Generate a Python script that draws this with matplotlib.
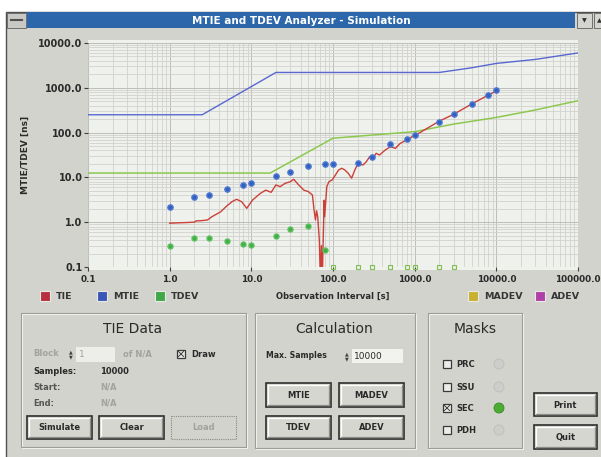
import matplotlib
matplotlib.use('Agg')
import matplotlib.pyplot as plt
from matplotlib.patches import Rectangle, Circle

# values: observation interval [s] and ns
tie_tau = [1.0, 2.0, 2.1, 2.4, 2.9, 3.3, 4.2, 5.0, 5.8, 6.6, 7.6, 8.8, 10.3, 12.9, 15, 17.5,
           20, 22.5, 26, 30, 33, 38, 44, 50, 56, 58.6, 61, 63, 65, 68, 70, 72, 74, 76, 78,
           79, 84, 89, 98, 107, 117, 128, 140, 154, 169, 185, 203, 233, 256, 281, 308, 338,
           371, 437, 506, 580, 666, 800, 1000, 1150, 2000, 3000, 5000, 8000, 10000]
tie_ns = [0.95, 1.0, 1.07, 1.08, 1.12, 1.33, 1.7, 2.3, 2.87, 3.25, 2.87, 2.04, 3.1, 4.4, 5.2, 4.65,
          6.8, 6.2, 7.4, 8.0, 9.1, 6.8, 5.2, 4.8, 4.05, 1.87, 1.12, 1.8, 1.33, 0.4, 0.05, 0.3,
          0.05, 0.5, 3.1, 1.33, 6.2, 8.0, 8.8, 11.3, 14.6, 16, 14.6, 12.3, 9.6, 14.6, 20.6,
          18.9, 22.4, 29, 26.7, 34.5, 31.6, 41, 48.6, 44.5, 57.5, 68.5, 88, 99, 180, 256,
          436, 690, 850]
mtie_tau = [1, 2, 3, 5, 8, 10, 20, 30, 50, 80, 100, 200, 300, 500, 800, 1000, 2000, 3000, 5000, 8000, 10000]
mtie_ns = [2.15, 3.7, 4.1, 5.5, 6.6, 7.4, 10.9, 13.2, 18, 19.5, 19.5, 20.5, 29, 55, 72, 88, 175, 256, 436, 690, 880]
tdev_tau = [1, 2, 3, 5, 8, 10, 20, 30, 50, 80]
tdev_ns = [0.30, 0.44, 0.44, 0.39, 0.33, 0.31, 0.50, 0.72, 0.83, 0.24]
tdev_low_tau = [100, 200, 300, 500, 800, 1000, 2000, 3000]
mtie_mask_tau = [0.1, 2.5, 20, 2000, 5000, 10000, 30000, 100000]
mtie_mask_ns = [250, 250, 2200, 2200, 2800, 3500, 4300, 6000]
tdev_mask_tau = [0.1, 17, 100, 300, 1000, 3000, 10000, 30000, 100000]
tdev_mask_ns = [12.5, 12.5, 75, 88, 105, 155, 218, 320, 515]

x_ticks = [0.1, 1, 10, 100, 1000, 10000, 100000]
x_ticklabels = ['0.1', '1.0', '10.0', '100.0', '1000.0', '10000.0', '100000.0']
y_ticks = [0.1, 1, 10, 100, 1000, 10000]
y_ticklabels = ['0.1', '1.0', '10.0', '100.0', '1000.0', '10000.0']

legend_names = ['TIE', 'MTIE', 'TDEV', 'MADEV', 'ADEV']
legend_colors = ['#b83040', '#3858b8', '#40a848', '#c8b030', '#b040a8']
legend_x = [45, 102, 160, 473, 540]

W, H = 601, 457
GRAY = '#d3d3cd'
TXT = '#2a2a2a'
DIS = '#a2a29e'

fig = plt.figure(figsize=(W / 100, H / 100), dpi=100)
fig.patch.set_facecolor('white')

ui = fig.add_axes([0, 0, 1, 1], zorder=0)
ui.set_xlim(0, W)
ui.set_ylim(H, 0)
ui.axis('off')


def rect(x0, y0, x1, y1, **kw):
    ui.add_patch(Rectangle((x0, y0), x1 - x0, y1 - y0, **kw))


def button(x0, y0, x1, y1, label, disabled=False):
    if disabled:
        rect(x0, y0, x1, y1, facecolor=GRAY, edgecolor='#8a8a86', lw=0.8, ls=(0, (1, 1)))
        ui.text((x0 + x1) / 2, (y0 + y1) / 2 + 0.5, label, ha='center', va='center',
                fontsize=6, fontweight='bold', color=DIS)
        return
    rect(x0, y0, x1, y1, facecolor='#d6d6d0', edgecolor='#2e2e2e', lw=1.2)
    ui.plot([x0 + 2, x1 - 2], [y0 + 2, y0 + 2], color='white', lw=0.9)
    ui.plot([x0 + 2, x0 + 2], [y0 + 2, y1 - 2], color='white', lw=0.9)
    ui.plot([x0 + 2, x1 - 2], [y1 - 2, y1 - 2], color='#8c8c88', lw=0.9)
    ui.plot([x1 - 2, x1 - 2], [y0 + 2, y1 - 2], color='#8c8c88', lw=0.9)
    ui.text((x0 + x1) / 2, (y0 + y1) / 2 + 0.5, label, ha='center', va='center',
            fontsize=6, fontweight='bold', color=TXT)


def group(x0, y0, x1, y1, title, cx):
    rect(x0 + 1, y0 + 1, x1 + 1, y1 + 1, facecolor='none', edgecolor='#f4f4f0', lw=0.8)
    rect(x0, y0, x1, y1, facecolor='none', edgecolor='#9c9c98', lw=0.8)
    ui.text(cx, y0 + 16, title, ha='center', va='center', fontsize=10, color=TXT)


def checkbox(cx, cy, checked):
    rect(cx - 4, cy - 4, cx + 4, cy + 4, facecolor='#ecece8', edgecolor='#3a3a3a', lw=0.9)
    if checked:
        ui.plot([cx - 2.5, cx + 2.5], [cy - 2.5, cy + 2.5], color='#3a3a3a', lw=0.7)
        ui.plot([cx - 2.5, cx + 2.5], [cy + 2.5, cy - 2.5], color='#3a3a3a', lw=0.7)


def spinner(cx, cy):
    ui.text(cx, cy - 2.5, '▲', ha='center', va='center', fontsize=3.5, color='#404040')
    ui.text(cx, cy + 2.5, '▼', ha='center', va='center', fontsize=3.5, color='#404040')


# window and title bar
rect(6, 12, W + 2, H + 2, facecolor=GRAY, edgecolor='#505050', lw=1)
rect(27, 12, 575, 28, facecolor='#2c67ab', edgecolor='none')
rect(7, 13, 26, 28, facecolor='#c8c8c4', edgecolor='#606060', lw=0.6)
ui.plot([11, 22], [20, 20], color='#505050', lw=1.5)
rect(577, 13, 592, 28, facecolor='#d4d4d0', edgecolor='#606060', lw=0.6)
rect(594, 13, 603, 28, facecolor='#d4d4d0', edgecolor='#606060', lw=0.6)
ui.text(584.5, 20.5, '▼', ha='center', va='center', fontsize=4.5, color='#303030')
ui.text(599, 20.5, '▲', ha='center', va='center', fontsize=4.5, color='#303030')
ui.text(301, 20.5, 'MTIE and TDEV Analyzer - Simulation', ha='center', va='center',
        fontsize=7.5, fontweight='bold', color='white')

# plot background
rect(88, 40, 578, 270, facecolor='#eff1ed', edgecolor='none')

# legend row
for name, col, lx in zip(legend_names, legend_colors, legend_x):
    rect(lx - 5, 291, lx + 5, 301, facecolor=col, edgecolor='#e8e8e4', lw=0.8)
    ui.text(lx + 11, 296.5, name, ha='left', va='center', fontsize=6.8,
            fontweight='bold', color='#353535')
ui.text(333, 296.5, 'Observation Interval [s]', ha='center', va='center', fontsize=6,
        fontweight='bold', color=TXT)

# TIE Data group
group(21, 313, 246, 447, 'TIE Data', 133)
ui.text(33, 354, 'Block', ha='left', va='center', fontsize=6, fontweight='bold', color=DIS)
spinner(71, 354)
rect(76, 347, 115, 362, facecolor='#ededea', edgecolor='none')
ui.text(79, 354.5, '1', ha='left', va='center', fontsize=6.5, color=DIS)
ui.text(123, 354, 'of N/A', ha='left', va='center', fontsize=6, fontweight='bold', color=DIS)
checkbox(181, 354, True)
ui.text(191, 354.5, 'Draw', ha='left', va='center', fontsize=6, fontweight='bold', color=TXT)
ui.text(33, 371, 'Samples:', ha='left', va='center', fontsize=6, fontweight='bold', color=TXT)
ui.text(100, 371, '10000', ha='left', va='center', fontsize=6, fontweight='bold', color=TXT)
ui.text(33, 387, 'Start:', ha='left', va='center', fontsize=6, fontweight='bold', color='#555555')
ui.text(100, 387, 'N/A', ha='left', va='center', fontsize=6, fontweight='bold', color=DIS)
ui.text(33, 403, 'End:', ha='left', va='center', fontsize=6, fontweight='bold', color='#555555')
ui.text(100, 403, 'N/A', ha='left', va='center', fontsize=6, fontweight='bold', color=DIS)
button(27, 416, 92, 439, 'Simulate')
button(99, 416, 164, 439, 'Clear')
button(171, 416, 236, 439, 'Load', disabled=True)

# Calculation group
group(255, 313, 415, 448, 'Calculation', 334)
ui.text(266, 356, 'Max. Samples', ha='left', va='center', fontsize=5.6, fontweight='bold', color=TXT)
spinner(347, 356)
rect(352, 349, 403, 363, facecolor='#f2f2ee', edgecolor='none')
ui.text(354, 356.5, '10000', ha='left', va='center', fontsize=6.5, color=TXT)
button(266, 383, 331, 407, 'MTIE')
button(339, 383, 404, 407, 'MADEV')
button(266, 416, 331, 439, 'TDEV')
button(339, 416, 404, 439, 'ADEV')

# Masks group
group(428, 313, 522, 448, 'Masks', 475)
mask_names = ['PRC', 'SSU', 'SEC', 'PDH']
mask_rows = [364, 387, 408, 430]
mask_on = [False, False, True, False]
for name, ry, on in zip(mask_names, mask_rows, mask_on):
    checkbox(447, ry, on)
    ui.text(456, ry + 0.5, name, ha='left', va='center', fontsize=6, fontweight='bold', color=TXT)
    ui.add_patch(Circle((499, ry), 5, facecolor='#4cae30' if on else '#cdcdc9',
                        edgecolor='#bdbdb9' if not on else '#3a8a24', lw=0.6))

button(534, 393, 597, 416, 'Print')
button(534, 425, 597, 449, 'Quit')

# chart
ax = fig.add_axes([88 / W, 1 - 267 / H, (578 - 88) / W, (267 - 43) / H], zorder=1)
ax.patch.set_alpha(0)
ax.set_xscale('log')
ax.set_yscale('log')
ax.set_xlim(0.1, 100000)
ax.set_ylim(0.1, 10000)
for s in ax.spines.values():
    s.set_visible(False)
ax.grid(True, which='minor', color='#d2d3cf', lw=0.6)
ax.grid(True, which='major', color='#bdbdb9', lw=0.7)
ax.set_axisbelow(True)

ax.plot(mtie_mask_tau, mtie_mask_ns, color='#5868d0', lw=1)
ax.plot(tdev_mask_tau, tdev_mask_ns, color='#8cc850', lw=1.1)
ax.plot(tie_tau, tie_ns, color='#cc4038', lw=1)
ax.plot(mtie_tau, mtie_ns, 'o', color='#3060c0', ms=3.8, mec='#5078d0')
ax.plot(tdev_tau, tdev_ns, 'o', color='#40b040', ms=3.6, mec='#60c060')
ax.plot(tdev_low_tau, [0.1] * len(tdev_low_tau), 's', mfc='none', mec='#80c050',
        ms=3.2, mew=0.8, clip_on=False)

ax.set_xticks(x_ticks)
ax.set_xticklabels(x_ticklabels)
ax.set_yticks(y_ticks)
ax.set_yticklabels(y_ticklabels)
ax.tick_params(which='major', length=3, width=0.8, color='#404040', labelsize=7,
               labelcolor=TXT, pad=1)
ax.tick_params(axis='x', labelsize=6.4, pad=3)
ax.tick_params(which='minor', length=0)
for lab in ax.get_xticklabels() + ax.get_yticklabels():
    lab.set_fontweight('bold')
ax.set_ylabel('MTIE/TDEV [ns]', fontsize=6.5, fontweight='bold', color=TXT, labelpad=6)

fig.savefig('out.png', dpi=100)
